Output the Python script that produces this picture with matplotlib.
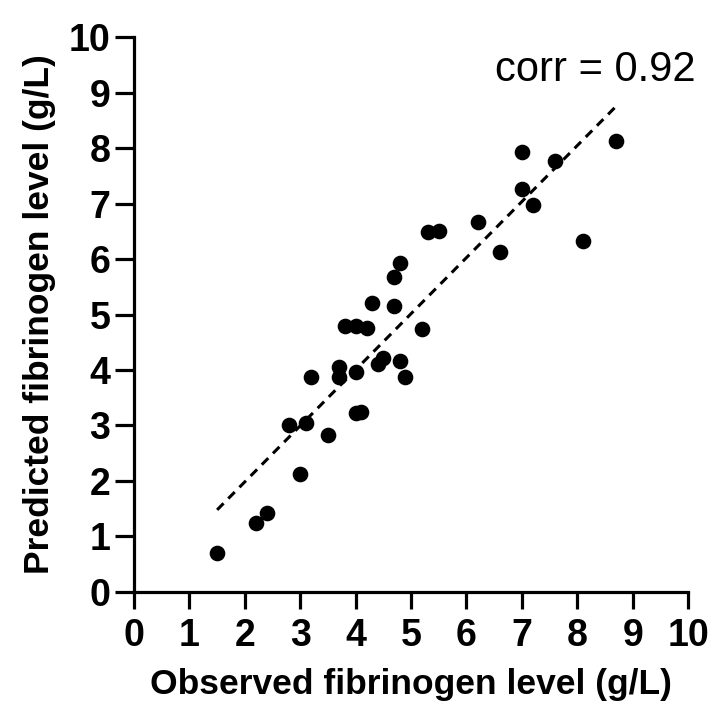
import matplotlib
matplotlib.use("Agg")
import matplotlib.pyplot as plt
import numpy as np

# observed vs predicted fibrinogen (g/L)
observed = [1.5, 2.2, 2.4, 2.8, 3.1, 3.0, 3.2, 3.5, 3.7, 3.7, 3.8, 4.0, 4.2,
            4.0, 4.0, 4.1, 4.3, 4.4, 4.5, 4.7, 4.7, 4.8, 4.8, 4.9, 5.2, 5.3,
            5.5, 6.2, 6.6, 7.0, 7.0, 7.2, 7.6, 8.1, 8.7]
predicted = [0.7, 1.25, 1.42, 3.0, 3.05, 2.12, 3.87, 2.83, 4.05, 3.88, 4.8,
             4.8, 4.75, 3.96, 3.22, 3.25, 5.2, 4.1, 4.22, 5.67, 5.15, 5.92,
             4.17, 3.88, 4.73, 6.48, 6.5, 6.67, 6.12, 7.93, 7.27, 6.98, 7.77,
             6.33, 8.12]
fit_x = [1.5, 8.7]
fit_y = [1.48, 8.75]
corr_text = "corr = 0.92"

plt.rcParams['font.family'] = ['Liberation Sans', 'DejaVu Sans']

fig = plt.figure(figsize=(7.26, 7.05), dpi=100)
ax = fig.add_axes([0.1846, 0.1603, 0.7631, 0.7872])

ax.scatter(observed, predicted, s=105, color='black', zorder=3, clip_on=False)
ax.plot(fit_x, fit_y, color='black', lw=2.2, ls=(0, (3, 2.2)))

ax.set_xlim(0, 10)
ax.set_ylim(0, 10)
ax.set_xticks(range(0, 11))
ax.set_yticks(range(0, 11))
for s in ['top', 'right']:
    ax.spines[s].set_visible(False)
for s in ['left', 'bottom']:
    ax.spines[s].set_linewidth(2.3)
ax.tick_params(width=2.3, labelsize=27)
ax.tick_params(axis='x', length=12, pad=7)
ax.tick_params(axis='y', length=14, pad=3)
for lab in ax.get_xticklabels() + ax.get_yticklabels():
    lab.set_fontweight('bold')

ax.set_xlabel('Observed fibrinogen level (g/L)', fontsize=25.5, fontweight='bold', labelpad=10)
ax.set_ylabel('Predicted fibrinogen level (g/L)', fontsize=25.5, fontweight='bold', labelpad=9)

ax.text(10.13, 9.4, corr_text, fontsize=30, ha='right', va='center')

fig.savefig('out.png', dpi=100)
